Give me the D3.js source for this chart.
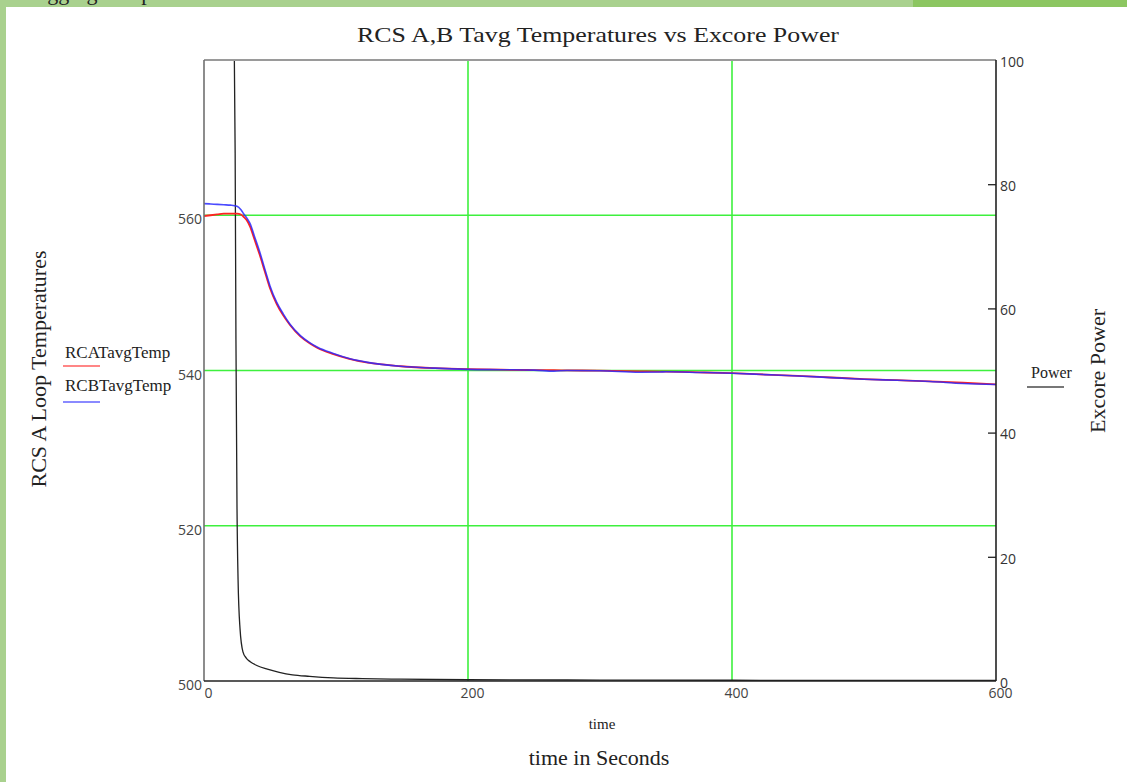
<!DOCTYPE html>
<html>
<head>
<meta charset="utf-8">
<script src="https://cdn.jsdelivr.net/npm/d3@7"></script>
<style>
  html, body { margin: 0; padding: 0; background: #a9d18e; }
  svg { display: block; }
</style>
</head>
<body>
<svg id="chart" width="1127" height="782"></svg>
<script>
// ---------- data ----------
const timeTemp = [0, 5, 10, 15, 20, 25, 28, 30, 33, 35, 38, 42, 46, 50, 55, 60, 65, 73, 80, 86, 98, 110, 124, 149, 175, 200, 225, 250, 265, 275, 300, 330, 345, 350, 375, 400, 425, 450, 475, 500, 525, 550, 575, 600];
const rcaTavg = [559.9, 560.0, 560.1, 560.2, 560.2, 560.2, 560.1, 559.8, 559.2, 558.5, 557.0, 555.0, 552.8, 550.6, 548.6, 547.1, 545.9, 544.4, 543.5, 542.9, 542.1, 541.5, 541.0, 540.55, 540.3, 540.17, 540.1, 540.06, 540.04, 540.02, 539.98, 539.9, 539.86, 539.85, 539.76, 539.65, 539.48, 539.3, 539.1, 538.9, 538.75, 538.6, 538.42, 538.2];
const rcbTavg = [561.5, 561.45, 561.4, 561.35, 561.3, 561.15, 560.7, 560.2, 559.5, 558.9, 557.4, 555.4, 553.1, 550.9, 548.8, 547.3, 546.0, 544.5, 543.6, 543.0, 542.2, 541.55, 541.05, 540.55, 540.3, 540.15, 540.1, 540.05, 539.92, 540.0, 539.97, 539.78, 539.8, 539.84, 539.75, 539.64, 539.47, 539.3, 539.08, 538.88, 538.74, 538.58, 538.33, 538.2];

const timePower = [0, 8, 14, 20, 23, 23.6, 24.2, 25, 25.8, 27.3, 29.5, 32, 35, 40, 48, 57, 67, 80, 98, 120, 149, 200, 300, 400, 500, 600];
const excorePower = [101, 100.6, 100, 100, 100, 85, 55, 28, 16.4, 8.4, 4.7, 3.7, 3.1, 2.5, 1.9, 1.4, 1.0, 0.75, 0.5, 0.38, 0.3, 0.2, 0.15, 0.12, 0.1, 0.1];

const tempTicks = [500, 520, 540, 560];
const powerTicks = [0, 20, 40, 60, 80, 100];
const timeTicks = [0, 200, 400, 600];
const gridTemp = [520, 540, 560];
const gridTime = [200, 400];

// ---------- layout ----------
const svg = d3.select("#chart");
const W = 1127, H = 782;
const L = 204, R = 996, T = 60, B = 681;
const serif = "'Liberation Serif', 'Times New Roman', serif";
const sans = "'Open Sans', 'Noto Sans', sans-serif";

// background
svg.append("rect").attr("x", 0).attr("y", 0).attr("width", W).attr("height", H).attr("fill", "#a9d18e");
svg.append("rect").attr("x", 913).attr("y", 0).attr("width", W - 913).attr("height", 8).attr("fill", "#8cc661");
svg.append("text").attr("x", 18).attr("y", 0).attr("font-family", serif).attr("font-size", 22)
  .attr("fill", "#222").text("Plugging Temp");
svg.append("rect").attr("x", 6).attr("y", 7).attr("width", W - 6).attr("height", H - 7).attr("fill", "#ffffff");

const x = d3.scaleLinear().domain([0, 600]).range([L, R]);
const yT = d3.scaleLinear().domain([500, 580]).range([B, T]);
const yP = d3.scaleLinear().domain([0, 100]).range([B, T]);

svg.append("clipPath").attr("id", "plotclip").append("rect")
  .attr("x", L).attr("y", T - 1).attr("width", R - L).attr("height", B - T + 1);

// grid
const grid = svg.append("g").attr("stroke", "#3ef03e").attr("stroke-width", 1.6);
gridTemp.forEach(v => grid.append("line").attr("x1", L).attr("x2", R).attr("y1", yT(v)).attr("y2", yT(v)));
gridTime.forEach(v => grid.append("line").attr("x1", x(v)).attr("x2", x(v)).attr("y1", T).attr("y2", B));

const plot = svg.append("g").attr("clip-path", "url(#plotclip)");

// power line
const powerData = timePower.map((t, i) => [t, excorePower[i]]);
plot.append("path").datum(powerData)
  .attr("fill", "none").attr("stroke", "#222").attr("stroke-width", 1.3)
  .attr("d", d3.line().x(d => x(d[0])).y(d => yP(d[1])).curve(d3.curveMonotoneX));

// temperatures
const lineT = d3.line().x(d => x(d[0])).y(d => yT(d[1])).curve(d3.curveMonotoneX);
plot.append("path").datum(timeTemp.map((t, i) => [t, rcaTavg[i]]))
  .attr("fill", "none").attr("stroke", "#ff2222").attr("stroke-width", 1.8).attr("d", lineT);
plot.append("path").datum(timeTemp.map((t, i) => [t, rcbTavg[i]]))
  .attr("fill", "none").attr("stroke", "#2a2aff").attr("stroke-width", 1.6).attr("stroke-opacity", 0.85).attr("d", lineT);

// frame
svg.append("line").attr("x1", L).attr("x2", R).attr("y1", T).attr("y2", T).attr("stroke", "#9a9a9a").attr("stroke-width", 2);
svg.append("line").attr("x1", L).attr("x2", L).attr("y1", T).attr("y2", B).attr("stroke", "#707070").attr("stroke-width", 1.6);
svg.append("line").attr("x1", L).attr("x2", R).attr("y1", B).attr("y2", B).attr("stroke", "#222").attr("stroke-width", 1.6);
svg.append("line").attr("x1", R).attr("x2", R).attr("y1", T).attr("y2", B).attr("stroke", "#222").attr("stroke-width", 1.6);

// left axis labels
const axL = svg.append("g").attr("transform", `translate(${L},0)`)
  .call(d3.axisLeft(yT).tickValues(tempTicks).tickSize(0).tickPadding(2).tickFormat(d3.format("d")));
axL.select(".domain").remove();
axL.selectAll("text").attr("font-family", sans).attr("font-size", 14).attr("fill", "#444").attr("dy", "0.62em");

// right axis
const axR = svg.append("g").attr("transform", `translate(${R},0)`)
  .call(d3.axisRight(yP).tickValues(powerTicks).tickSize(0).tickPadding(4).tickFormat(d3.format("d")));
axR.select(".domain").remove();
axR.selectAll("text").attr("font-family", sans).attr("font-size", 14).attr("fill", "#333").attr("dy", "0.45em");
axR.selectAll(".tick").append("line").attr("x1", -8).attr("x2", 0).attr("y1", 0).attr("y2", 0)
  .attr("stroke", "#222").attr("stroke-width", 1.3);
axR.selectAll(".tick").filter(d => d === 0 || d === 100).select("line:last-of-type").remove();

// bottom axis
const axB = svg.append("g").attr("transform", `translate(0,${B})`)
  .call(d3.axisBottom(x).tickValues(timeTicks).tickSize(0).tickPadding(7).tickFormat(d3.format("d")));
axB.select(".domain").remove();
axB.selectAll("text").attr("font-family", sans).attr("font-size", 14).attr("fill", "#444").attr("dx", 4);

// titles
svg.append("text").attr("x", 598).attr("y", 42).attr("text-anchor", "middle")
  .attr("font-family", serif).attr("font-size", 22).attr("fill", "#222")
  .attr("textLength", 482).attr("lengthAdjust", "spacingAndGlyphs")
  .text("RCS A,B Tavg Temperatures vs Excore Power");
svg.append("text").attr("transform", "translate(46,369) rotate(-90)").attr("text-anchor", "middle")
  .attr("font-family", serif).attr("font-size", 22).attr("fill", "#222")
  .text("RCS A Loop Temperatures");
svg.append("text").attr("transform", "translate(1105,371) rotate(-90)").attr("text-anchor", "middle")
  .attr("font-family", serif).attr("font-size", 22).attr("fill", "#222")
  .text("Excore Power");
svg.append("text").attr("x", 602).attr("y", 729).attr("text-anchor", "middle")
  .attr("font-family", serif).attr("font-size", 15).attr("fill", "#222").text("time");
svg.append("text").attr("x", 599).attr("y", 765).attr("text-anchor", "middle")
  .attr("font-family", serif).attr("font-size", 22).attr("fill", "#222").text("time in Seconds");

// legends
const legendLeft = [
  {name: "RCATavgTemp", color: "#ff2222", ty: 358, ly: 366},
  {name: "RCBTavgTemp", color: "#2a2aff", ty: 391, ly: 402}
];
legendLeft.forEach(d => {
  svg.append("text").attr("x", 65).attr("y", d.ty).attr("font-family", serif).attr("font-size", 17)
    .attr("fill", "#222").text(d.name);
  svg.append("line").attr("x1", 63).attr("x2", 100).attr("y1", d.ly).attr("y2", d.ly)
    .attr("stroke", d.color).attr("stroke-opacity", 0.55).attr("stroke-width", 2.2);
});
svg.append("text").attr("x", 1031).attr("y", 378).attr("font-family", serif).attr("font-size", 16)
  .attr("fill", "#222").text("Power");
svg.append("line").attr("x1", 1027).attr("x2", 1064).attr("y1", 387).attr("y2", 387)
  .attr("stroke", "#777").attr("stroke-width", 1.8);
</script>
</body>
</html>
